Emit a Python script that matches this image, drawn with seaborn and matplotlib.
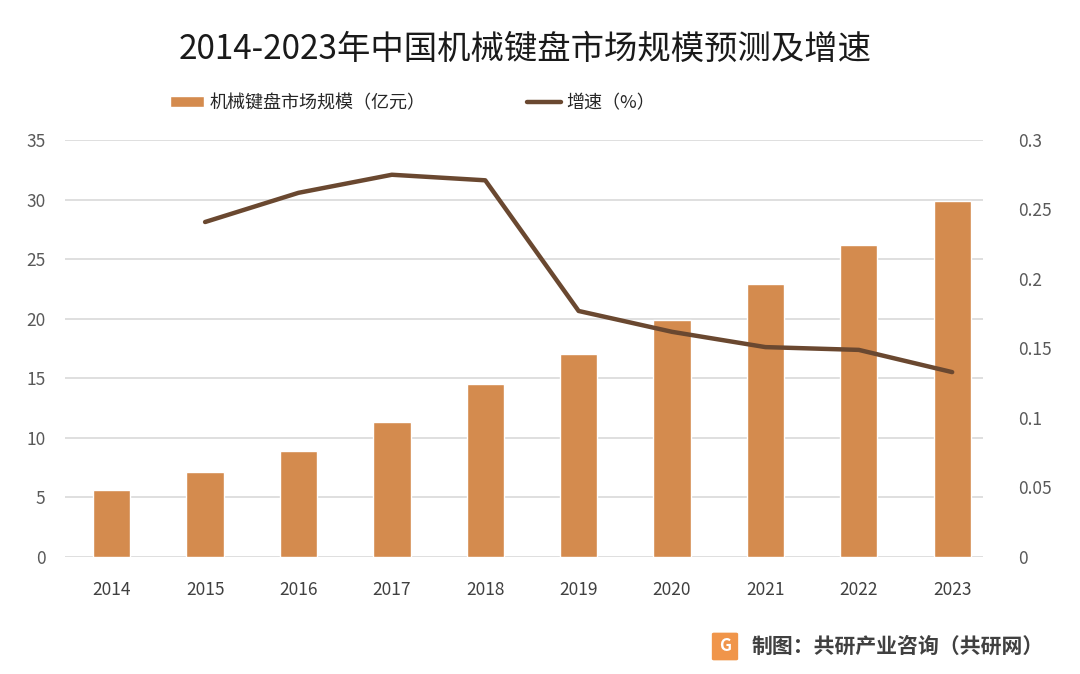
import numpy as np
import pandas as pd
import matplotlib
matplotlib.use('Agg')
import matplotlib.pyplot as plt
from matplotlib.patches import FancyBboxPatch
from matplotlib.ticker import FuncFormatter
import seaborn as sns

# Daten
years = ['2014', '2015', '2016', '2017', '2018', '2019', '2020', '2021', '2022', '2023']
market_size = [5.6, 7.1, 8.9, 11.3, 14.5, 17.0, 19.9, 22.9, 26.2, 29.9]
growth = [np.nan, 0.241, 0.262, 0.275, 0.271, 0.177, 0.162, 0.151, 0.149, 0.133]

bar_label = '机械键盘市场规模（亿元）'
line_label = '增速（%）'
title = '2014-2023年中国机械键盘市场规模预测及增速'
source = '制图：共研产业咨询（共研网）'

bar_color = '#D48B4E'
line_color = '#6A4830'
text_color = '#595959'

sns.set_theme(style='white')
plt.rcParams['font.family'] = ['Noto Sans CJK SC', 'DejaVu Sans']

df = pd.DataFrame({'year': years, 'size': market_size,
                   'growth': growth, 'pos': np.arange(len(years))})

fig = plt.figure(figsize=(10.8, 6.74), dpi=100)
ax = fig.add_axes([65 / 1080, 1 - 557 / 674, (983 - 65) / 1080, (557 - 140) / 674])

sns.barplot(data=df, x='year', y='size', color=bar_color, width=0.4,
            saturation=1, ax=ax, label=bar_label, zorder=3)
ax.set_ylim(0, 35)
ax.set_yticks(np.arange(0, 36, 5))
ax.yaxis.grid(True, color='#D9D9D9', linewidth=1.2, zorder=0)
ax.set_axisbelow(True)
ax.set_xlabel('')
ax.set_ylabel('')
for s in ax.spines.values():
    s.set_visible(False)
ax.tick_params(axis='y', length=0, pad=14, labelsize=12.5, labelcolor=text_color)
ax.tick_params(axis='x', length=0, pad=17, labelsize=12.5, labelcolor='#404040')

ax2 = ax.twinx()
sns.lineplot(data=df, x='pos', y='growth', color=line_color, linewidth=3.2,
             ax=ax2, label=line_label, zorder=4)
ax2.set_ylim(0, 0.3)
ax2.set_yticks(np.arange(0, 0.31, 0.05))
ax2.yaxis.set_major_formatter(FuncFormatter(lambda v, p: '{:g}'.format(round(v, 2))))
ax2.set_ylabel('')
ax2.set_xlabel('')
ax2.grid(False)
for s in ax2.spines.values():
    s.set_visible(False)
ax2.tick_params(axis='y', length=0, pad=25, labelsize=12.5, labelcolor=text_color)
ax.set_xlim(-0.5, 9.33)
ax2.set_xlim(-0.5, 9.33)

# Legende
h1, l1 = ax.get_legend_handles_labels()
h2, l2 = ax2.get_legend_handles_labels()
for a in (ax, ax2):
    if a.get_legend():
        a.get_legend().remove()
fig.legend(h1 + h2, l1 + l2, loc='center', bbox_to_anchor=(0.382, 0.847), ncol=2,
           frameon=False, fontsize=13, handlelength=1.9, handleheight=0.6,
           columnspacing=5.6, handletextpad=0.3, labelcolor='#262626')

fig.text(0.486, 0.926, title, ha='center', va='center', fontsize=24, color='#1a1a1a')

# Quelle mit Logo
logo = FancyBboxPatch((714 / 1080, 1 - 659 / 674), 22 / 1080, 25 / 674,
                      boxstyle='round,pad=0.002', transform=fig.transFigure,
                      facecolor='#F0954A', edgecolor='none')
fig.patches.append(logo)
fig.text(725 / 1080, 1 - 646 / 674, 'G', ha='center', va='center', fontsize=12,
         color='white', fontweight='bold')
fig.text(752 / 1080, 1 - 646 / 674, source, ha='left', va='center', fontsize=15,
         color='#404040', fontweight='bold')

fig.savefig('out.png', dpi=100, facecolor='white')
